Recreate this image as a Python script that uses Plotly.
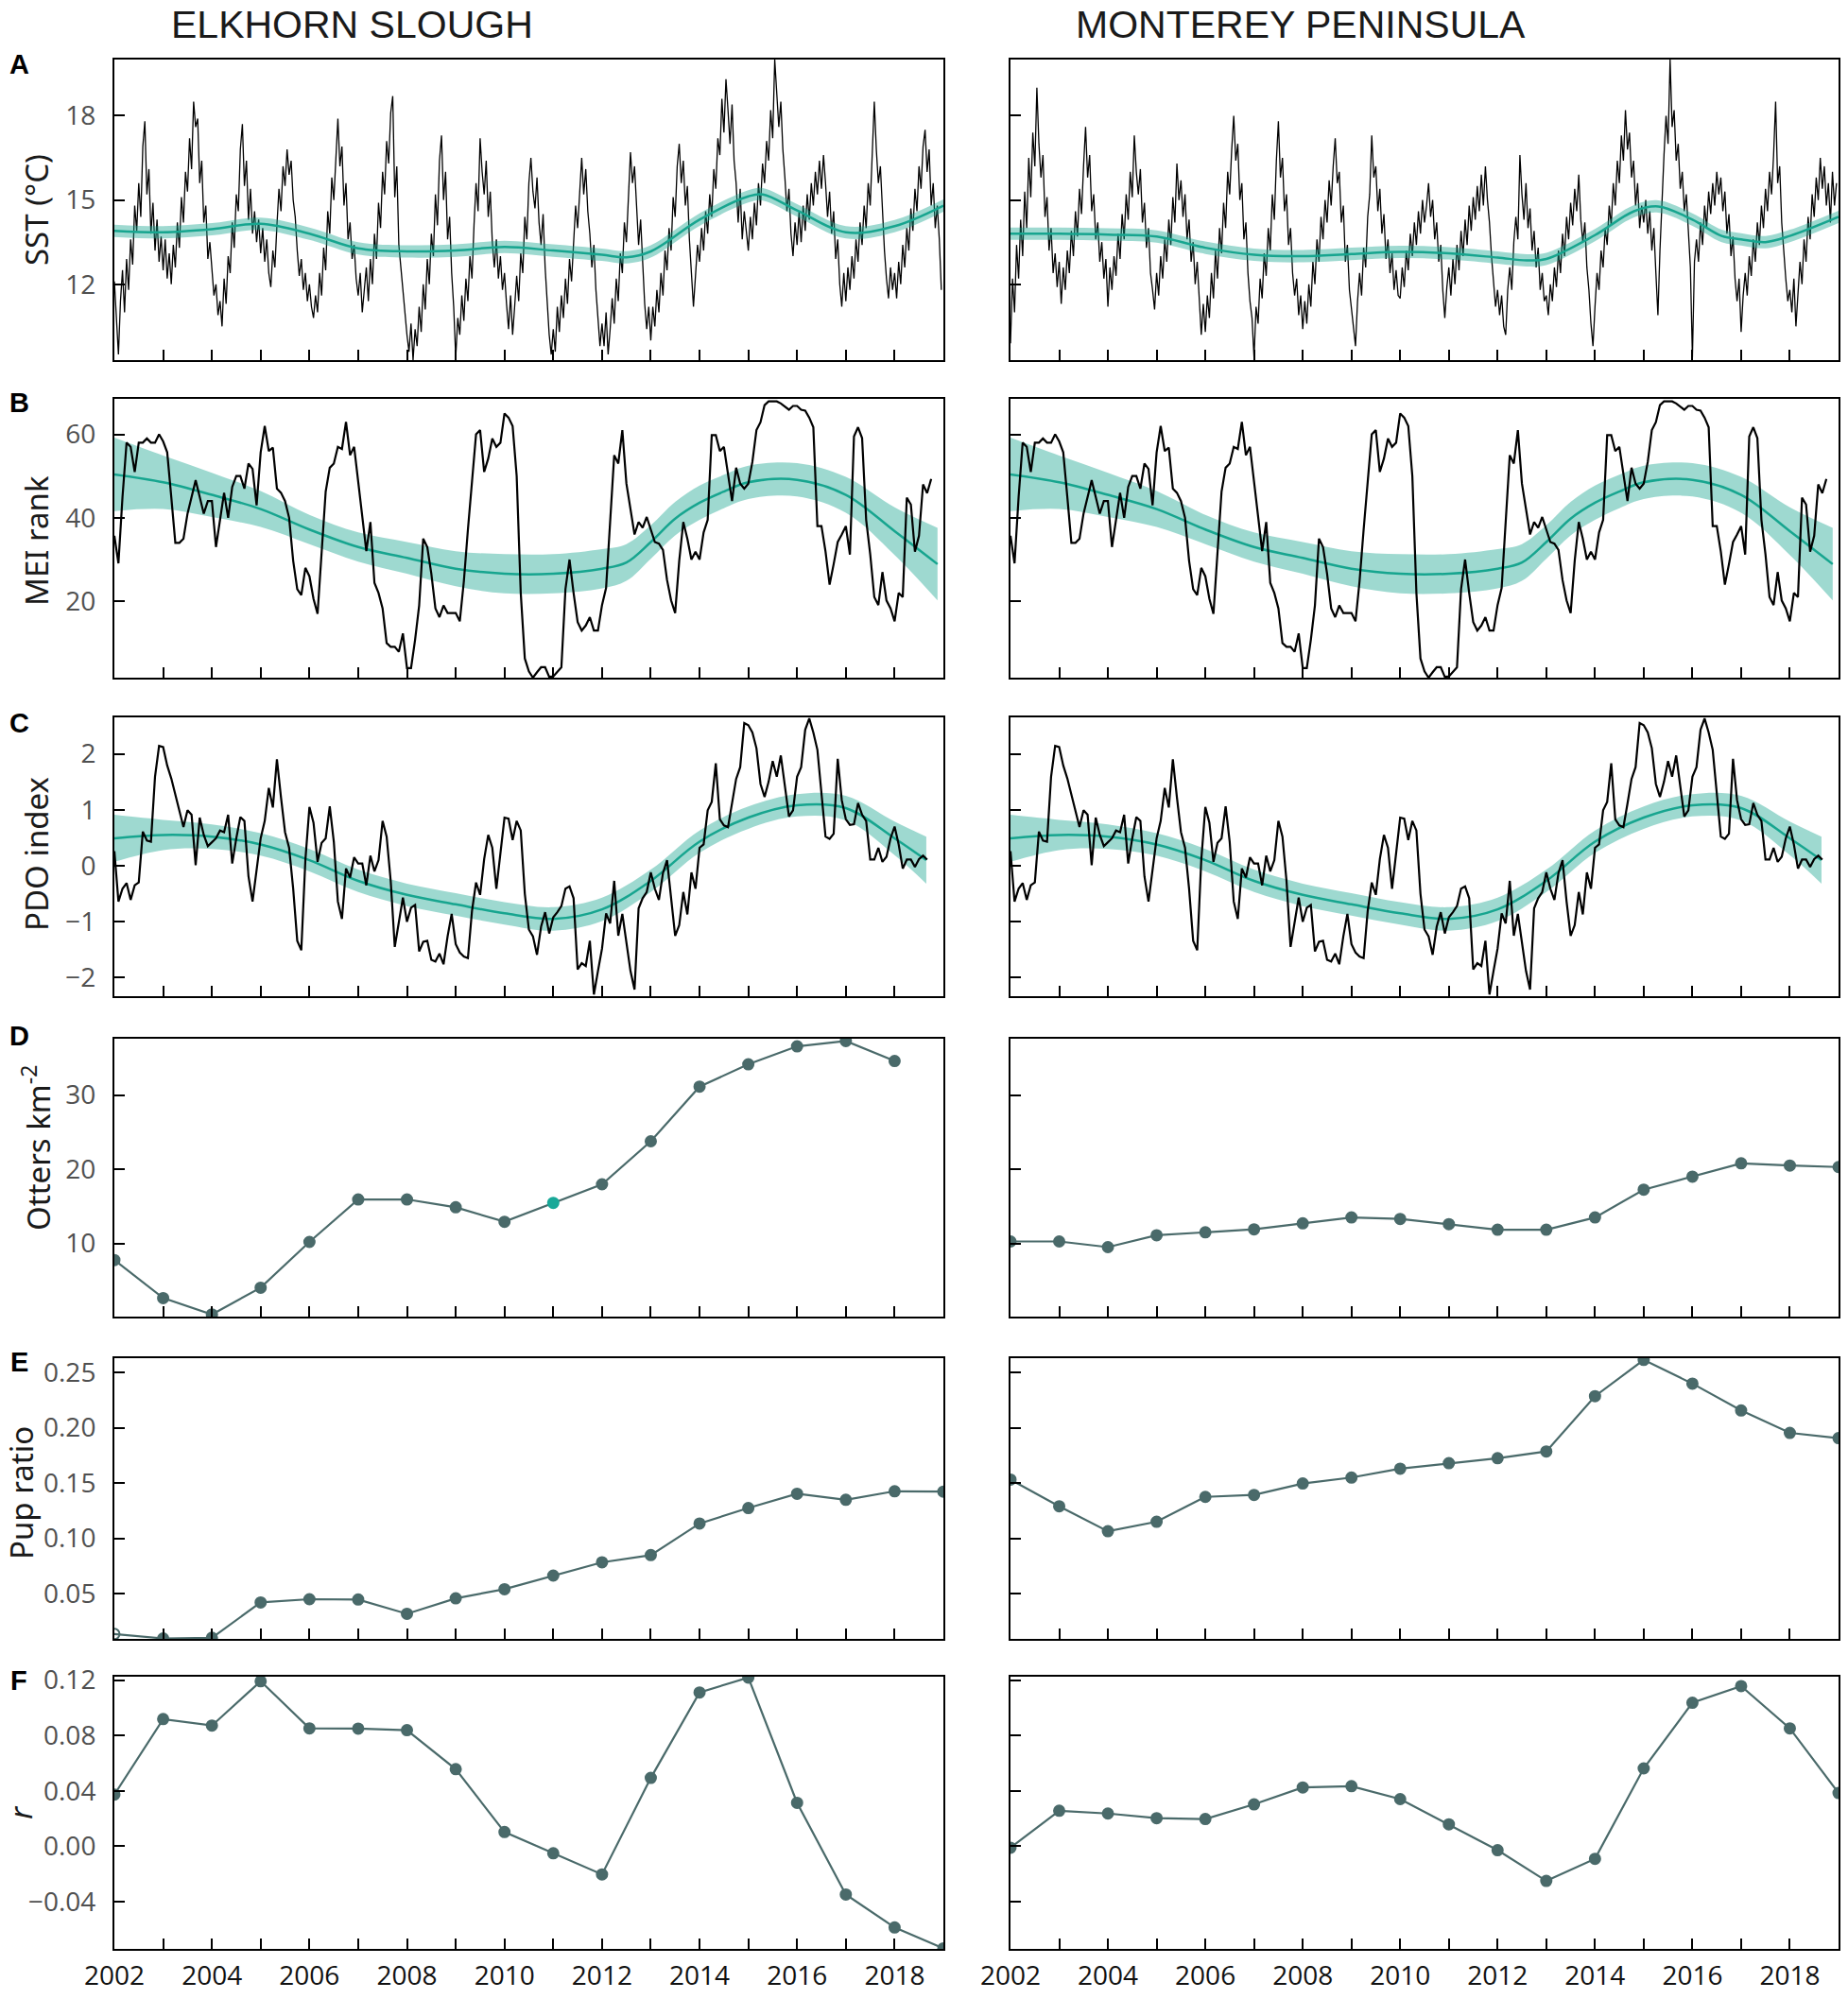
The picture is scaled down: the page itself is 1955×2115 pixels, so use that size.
import plotly.graph_objects as go

# the page body keeps an 8 px margin, so the figure is drawn 16 px smaller
# and every reference pixel position is shifted by that margin
W, H = 1955, 2115
PAD = 8
FW, FH = W - 2 * PAD, H - 2 * PAD


def px_x(px):
    return min(1.0, max(0.0, (px - PAD) / FW))


def px_y(py):
    return min(1.0, max(0.0, 1 - (py - PAD) / FH))


# ---------------- data ----------------
years = list(range(2002, 2020))
label_years = list(range(2002, 2019, 2))
minor_years = [y for y in years if y not in label_years]

# D: otter density (Elkhorn Slough has no 2019 value)
es_otters = [7.75, 2.63, 0.42, 4.03, 10.2, 15.93, 15.93, 14.87, 12.92, 15.47,
             17.97, 23.77, 31.14, 34.15, 36.57, 37.29, 34.6]
mp_otters = [10.26, 10.26, 9.5, 11.1, 11.5, 11.9, 12.7, 13.5, 13.3, 12.6,
             11.85, 11.85, 13.5, 17.25, 19.0, 20.8, 20.5, 20.3]

# E: pup ratio
es_pups = [0.0134, 0.0094, 0.0100, 0.042, 0.0449, 0.0446, 0.0317, 0.0457, 0.054,
           0.0663, 0.0783, 0.0848, 0.1134, 0.1274, 0.1403, 0.1349, 0.1426, 0.1423]
mp_pups = [0.1532, 0.129, 0.1064, 0.115, 0.1375, 0.1393, 0.1496, 0.155, 0.163,
           0.168, 0.1725, 0.1786, 0.2286, 0.2614, 0.24, 0.2157, 0.1954, 0.1907]

# F: growth rate r
es_r = [0.0373, 0.0918, 0.0871, 0.1191, 0.0851, 0.0849, 0.0838, 0.0556, 0.0102,
        -0.0051, -0.0204, 0.0493, 0.111, 0.1218, 0.0313, -0.0349, -0.0587, -0.0738]
mp_r = [-0.0011, 0.0256, 0.0236, 0.0202, 0.0196, 0.0302, 0.0424, 0.0433, 0.034,
        0.0158, -0.0029, -0.0251, -0.0091, 0.0562, 0.1036, 0.1156, 0.0851, 0.0384]

# B: MEI rank, monthly from Jan 2002
mei_rank = [
    35.7, 29.1, 45, 58, 57, 51, 58, 58, 59, 58, 58, 60, 58.3, 55.7, 45, 34, 34, 35, 41, 45,
    49, 45, 41, 44, 44, 33, 39.5, 46, 40, 47.4, 50, 50, 47, 53, 51.7, 43, 55.7, 62, 56, 56.8,
    47, 46, 44, 40, 29.7, 22.9, 21.5, 28, 26, 20.6, 17, 32.7, 46.3, 52, 53, 57, 56.5, 63, 55, 57,
    48.5, 40, 32, 39, 24.4, 22, 18.3, 10, 9.1, 9.1, 7.9, 12.3, 4, 4, 10.8, 19, 35, 33, 26.6, 18.3,
    16.2, 19, 17.2, 17.2, 17.2, 15.2, 24.8, 37.2, 49.3, 60, 61, 51, 54.2, 59, 57, 58, 65, 64, 62, 50,
    22, 6.3, 3.2, 1.7, 3, 4.2, 4.2, 1.9, 2, 3.1, 4.2, 22.9, 30, 22, 15, 13, 14.2, 16.2, 13, 13,
    19.1, 23.2, 39, 55, 53, 61, 48.2, 42.5, 36, 39, 37.6, 40.2, 37.2, 34.2, 33.8, 32.3, 25.1, 20.2, 17.2, 29.7,
    39, 35, 30, 31.9, 30, 36.5, 39.5, 59.8, 59.8, 56, 57, 50.8, 44, 52, 48.2, 47, 48.2, 53.4, 61, 62.9,
    67, 67.9, 67.9, 67.9, 67.4, 66.6, 65.9, 66.8, 66.8, 65.9, 65.7, 64, 61.7, 38, 38, 31.9, 24, 28.9, 34.2, 36,
    38, 31.2, 59.5, 61.7, 59.1, 39.5, 31.2, 21, 19.1, 27, 20.2, 18.3, 15.2, 22, 21, 44.8, 43.2, 31.9, 35.7, 48,
    45.9, 49.3,
]
mei_trend_t = [2002, 2003, 2004, 2005, 2006, 2007, 2008, 2009, 2010, 2011, 2012,
               2012.5, 2013, 2013.5, 2014, 2014.5, 2015, 2016, 2017, 2018, 2018.88]
mei_trend = [50.4, 48.5, 45.5, 42.1, 37.2, 33.0, 30.4, 27.8, 26.6, 26.6, 27.8,
             29.3, 34.2, 39.8, 43.6, 46.3, 48.5, 49.1, 45.5, 36.8, 28.9]
mei_ci = [8.8, 6.4, 5.3, 4.3, 3.5, 3.5, 3.8, 4.2, 4.7, 4.7, 4.7,
          4.4, 4.0, 4.0, 4.1, 4.0, 4.0, 4.0, 4.3, 5.7, 8.7]

# C: PDO index, monthly from Jan 2002
pdo_index = [
    0.26, -0.64, -0.41, -0.31, -0.61, -0.35, -0.3, 0.61, 0.45, 0.43,
    1.59, 2.14, 2.12, 1.79, 1.56, 1.28, 1.0, 0.69, 0.99, 0.91,
    0.01, 0.86, 0.55, 0.35, 0.42, 0.49, 0.63, 0.6, 0.91, 0.04,
    0.49, 0.87, 0.8, -0.19, -0.64, -0.07, 0.49, 0.8, 1.39, 1.04,
    1.9, 1.22, 0.6, 0.32, -0.41, -1.34, -1.51, 0.1, 1.05, 0.77,
    0.07, 0.41, 0.49, 1.06, 0.43, -0.64, -0.95, -0.05, -0.21, 0.15,
    0.04, 0.04, -0.35, 0.18, -0.1, 0.1, 0.8, 0.52, -0.27, -1.45,
    -1.03, -0.57, -1.0, -0.75, -0.7, -1.53, -1.36, -1.34, -1.68, -1.71,
    -1.57, -1.76, -1.26, -0.86, -1.4, -1.55, -1.62, -1.65, -0.81, -0.3,
    -0.52, 0.12, 0.55, 0.32, -0.41, 0.26, 0.86, 0.84, 0.46, 0.8,
    0.63, -0.5, -1.14,
    -1.26, -1.59, -1.09, -0.83, -1.21, -0.92, -0.83, -0.72, -0.41, -0.37,
    -0.58, -1.85, -1.74, -1.79, -1.34, -2.3, -1.88, -1.48, -0.85, -1.03,
    -0.27, -1.25, -0.86, -1.37, -1.88, -2.21, -0.76, -0.58, -0.47, -0.12,
    -0.41, -0.61, -0.13, 0.1, -0.64, -1.25, -1.06, -0.47, -0.87, -0.12,
    -0.41, 0.32, 0.38, 0.99, 1.14, 1.83, 0.83, 0.72, 0.69, 1.11,
    1.55, 1.76, 2.55, 2.51, 2.38, 2.1, 1.46, 1.23, 1.5, 1.87,
    1.59, 1.97, 1.39, 0.88, 0.99, 1.59, 1.76, 2.43, 2.63, 2.38,
    2.07, 1.25, 0.52, 0.48, 0.57, 1.91, 1.17, 0.83, 0.73, 0.74,
    1.12, 0.91, 0.8, 0.11, 0.11, 0.32, 0.07, 0.16, 0.49, 0.7,
    0.38, -0.05, 0.11, 0.11, -0.02, 0.12, 0.18, 0.11,
]
pdo_trend_t = [2002, 2003, 2004, 2005, 2006, 2007, 2008, 2009, 2010, 2011, 2012,
               2013, 2014, 2015, 2016, 2017, 2018, 2018.65]
pdo_trend = [0.49, 0.55, 0.52, 0.38, 0.10, -0.27, -0.52, -0.69, -0.85, -0.95, -0.78,
             -0.27, 0.43, 0.86, 1.08, 1.03, 0.49, 0.10]
pdo_ci = [0.42, 0.27, 0.22, 0.20, 0.20, 0.20, 0.20, 0.20, 0.20, 0.21, 0.21,
          0.20, 0.20, 0.20, 0.20, 0.22, 0.30, 0.42]

# A: SST, twice a month from Jan 2002 (one row per year)
sst_es = [
    12.1, 10.6, 9.5, 11.4, 12.5, 11.0, 12.9, 11.8, 13.6, 12.7, 14.8, 13.9, 15.6, 14.4, 16.9, 17.8, 15.2, 16.1, 13.8, 14.9, 13.2, 14.3, 12.8, 13.7,
    12.5, 13.6, 12.2, 13.1, 12.0, 13.4, 12.6, 14.2, 13.3, 15.1, 14.2, 16.0, 15.3, 17.2, 16.1, 18.5, 17.6, 17.9, 15.6, 16.4, 14.2, 14.8, 12.9, 13.5,
    12.4, 11.6, 12.0, 10.9, 11.4, 10.5, 12.2, 11.3, 13.0, 12.4, 14.2, 13.3, 15.2, 14.6, 16.8, 17.7, 15.5, 16.4, 14.3, 15.4, 13.8, 14.6, 13.5, 14.3,
    13.1, 14.0, 12.8, 13.6, 12.4, 11.9, 13.2, 12.6, 14.1, 15.4, 14.6, 16.2, 15.5, 16.8, 15.9, 16.4, 15.0, 14.4, 13.2, 12.3, 12.9, 11.8, 12.4, 11.4,
    12.0, 11.2, 10.8, 11.6, 11.0, 12.4, 11.6, 13.3, 12.5, 14.6, 13.8, 15.8, 15.0, 16.7, 17.9, 16.2, 16.9, 14.8, 15.6, 13.6, 14.2, 12.9, 13.4, 12.2,
    11.6, 12.4, 11.0, 11.8, 12.6, 11.4, 12.9, 12.0, 13.8, 12.9, 14.9, 14.0, 16.0, 15.2, 17.1, 16.3, 18.1, 18.7, 15.1, 16.2, 13.4, 12.6, 11.8, 10.9,
    10.2, 9.6, 10.6, 9.3, 10.4, 9.8, 11.2, 10.3, 12.0, 11.1, 12.9, 12.0, 13.8, 13.0, 15.2, 14.1, 16.4, 17.3, 15.0, 16.0, 13.6, 14.4, 12.4, 11.2,
    9.4, 10.8, 10.2, 11.6, 10.7, 12.2, 11.4, 13.0, 12.2, 14.1, 15.6, 14.6, 17.2, 16.0, 15.2, 16.4, 14.4, 15.3, 13.5, 12.6, 13.6, 12.2, 13.0, 11.8,
    12.4, 11.3, 10.4, 11.6, 10.2, 11.2, 12.3, 11.4, 13.1, 12.4, 14.4, 13.6, 15.6, 16.5, 15.3, 14.7, 15.8, 14.2, 13.4, 14.5, 12.6, 11.4, 10.2, 9.5,
    10.4, 9.6, 11.2, 10.3, 11.6, 10.8, 12.2, 11.3, 12.9, 12.1, 13.6, 14.8, 14.0, 15.5, 16.5, 15.2, 16.1, 14.6, 13.8, 12.6, 13.4, 11.8, 10.6, 9.8,
    10.6, 9.8, 11.0, 9.5, 10.4, 11.5, 10.6, 12.2, 11.4, 13.1, 12.4, 14.2, 13.5, 15.3, 16.7, 15.6, 16.2, 14.8, 13.4, 14.3, 12.5, 11.3, 10.4, 11.2,
    10.0, 11.2, 10.5, 11.8, 11.0, 12.4, 11.6, 13.2, 12.5, 14.0, 13.2, 15.1, 14.4, 16.2, 17.0, 15.6, 16.4, 14.8, 15.5, 13.6, 12.4, 11.2, 12.3, 13.4,
    12.8, 14.0, 13.2, 14.6, 13.8, 15.2, 14.4, 16.1, 15.4, 17.2, 16.6, 18.6, 17.4, 19.3, 18.2, 17.0, 18.4, 16.4, 15.6, 14.2, 15.4, 13.6, 14.6, 13.8,
    13.2, 14.4, 13.6, 14.9, 14.1, 15.6, 14.8, 16.3, 15.6, 17.1, 16.4, 18.2, 17.2, 20.0, 18.8, 17.6, 18.5, 16.8, 15.8, 14.6, 15.4, 13.8, 13.0, 14.2,
    13.4, 14.6, 13.5, 14.8, 13.9, 15.2, 14.3, 15.6, 14.8, 16.0, 15.2, 16.4, 15.4, 16.6, 15.6, 14.4, 15.3, 13.8, 14.6, 12.9, 13.6, 12.0, 11.2, 12.4,
    11.4, 12.6, 11.8, 13.0, 12.2, 13.6, 12.8, 14.2, 13.4, 14.8, 14.0, 15.6, 14.8, 16.4, 18.5, 16.8, 15.6, 16.2, 14.4, 13.2, 12.2, 11.5, 12.6, 11.8,
    12.4, 11.5, 12.8, 12.0, 13.4, 12.6, 14.0, 13.2, 14.7, 13.9, 15.4, 14.6, 16.2, 15.4, 16.9, 17.5, 16.0, 16.8, 14.8, 15.6, 14.0, 14.8, 13.6, 11.8,
]
sst_mp = [
    9.9, 12.2, 11.0, 13.4, 12.2, 14.3, 13.0, 15.3, 14.0, 16.5, 15.1, 17.4, 16.2, 19.0, 17.0, 15.8, 16.6, 14.4, 15.1, 13.2, 14.0, 12.4, 13.1, 11.9,
    12.8, 11.3, 12.6, 11.8, 13.2, 12.4, 13.9, 13.0, 14.6, 13.7, 15.4, 14.5, 16.2, 17.6, 15.8, 16.6, 14.6, 15.2, 13.6, 14.2, 12.8, 13.5, 12.2, 12.9,
    11.2, 12.6, 11.8, 13.0, 12.3, 13.8, 12.9, 14.5, 13.6, 15.2, 14.3, 16.0, 15.1, 17.3, 16.0, 15.2, 16.1, 14.2, 14.9, 13.3, 14.0, 12.4, 11.8, 11.1,
    12.4, 11.6, 13.0, 12.2, 13.6, 12.8, 14.3, 13.4, 15.1, 14.2, 16.3, 15.0, 15.7, 14.4, 15.2, 13.6, 14.3, 12.8, 13.5, 12.0, 12.8, 11.4, 10.2, 11.3,
    10.3, 11.6, 10.8, 12.4, 11.5, 13.2, 12.2, 14.0, 13.1, 14.9, 14.0, 16.0, 15.2, 16.8, 18.0, 16.4, 17.0, 15.0, 15.6, 13.6, 14.2, 12.4, 11.4, 10.8,
    9.4, 11.2, 10.6, 12.2, 11.5, 13.1, 12.3, 14.0, 13.2, 15.2, 14.3, 16.4, 17.8, 15.8, 16.5, 14.6, 15.2, 13.4, 14.0, 12.4, 11.6, 12.2, 10.9, 11.6,
    10.4, 11.4, 10.6, 12.0, 11.2, 12.8, 12.0, 13.6, 12.8, 14.4, 13.6, 15.0, 14.2, 15.7, 14.8, 16.2, 17.2, 15.6, 16.0, 14.2, 14.8, 12.8, 13.4, 11.8,
    11.2, 10.4, 9.8, 11.4, 12.4, 11.6, 13.3, 12.6, 14.4, 15.2, 17.3, 15.8, 16.2, 14.6, 15.4, 13.8, 14.5, 12.9, 13.6, 12.4, 13.1, 11.8, 12.5, 11.6,
    11.5, 12.6, 11.9, 13.2, 12.5, 13.8, 13.0, 14.2, 13.4, 14.6, 13.8, 15.0, 14.2, 14.8, 15.6, 14.4, 15.0, 13.6, 14.2, 12.8, 13.4, 11.8, 10.8, 11.9,
    12.6, 11.6, 12.9, 12.0, 13.4, 12.5, 13.9, 13.0, 14.3, 13.4, 14.8, 13.9, 15.1, 14.3, 15.5, 14.6, 15.9, 14.8, 16.2, 15.0, 14.2, 13.0, 12.2, 11.2,
    11.8, 10.9, 11.6, 10.5, 10.2, 11.8, 12.6, 11.8, 13.5, 14.4, 13.6, 16.6, 15.2, 14.3, 15.6, 14.0, 14.7, 13.2, 13.9, 12.6, 13.3, 11.8, 12.4, 11.4,
    11.6, 10.9, 12.0, 11.4, 12.6, 11.9, 13.2, 12.4, 13.8, 13.0, 14.4, 13.6, 14.9, 14.1, 15.4, 14.6, 15.9, 14.3, 13.5, 14.2, 12.6, 11.8, 10.6, 9.8,
    11.2, 12.4, 11.8, 13.2, 12.6, 14.0, 13.4, 14.8, 14.1, 15.6, 14.8, 16.4, 15.6, 17.3, 16.4, 18.2, 16.8, 17.4, 15.8, 16.4, 14.8, 15.6, 14.0, 14.8,
    14.2, 15.0, 13.8, 14.6, 13.2, 14.0, 12.4, 10.9, 13.2, 15.2, 16.6, 18.0, 17.0, 20.0, 17.6, 18.2, 16.4, 17.0, 15.4, 16.0, 14.6, 15.2, 13.8, 12.6,
    9.4, 12.8, 13.6, 12.8, 14.2, 13.4, 14.8, 14.0, 15.3, 14.5, 15.6, 14.8, 16.0, 15.2, 15.8, 14.6, 15.3, 13.8, 14.5, 13.0, 13.7, 12.2, 11.4, 12.2,
    10.3, 11.6, 12.4, 11.6, 13.0, 12.3, 13.6, 12.8, 14.2, 13.4, 14.8, 14.0, 15.4, 14.6, 16.0, 15.2, 16.6, 18.5, 15.6, 16.2, 14.2, 13.0, 12.2, 11.4,
    11.8, 11.0, 12.2, 10.5, 11.8, 12.8, 12.0, 13.6, 12.8, 14.4, 13.6, 15.2, 14.4, 15.8, 15.0, 16.5, 15.4, 16.2, 14.8, 15.6, 14.2, 16.0, 14.8, 15.6,
]
sst_es_trend_t = [2002, 2003, 2004, 2005, 2006, 2007, 2008, 2009, 2010, 2011, 2012,
                  2012.5, 2013, 2014, 2015, 2015.3, 2016, 2017, 2018, 2019]
sst_es_trend = [13.9, 13.85, 13.96, 14.15, 13.8, 13.28, 13.17, 13.2, 13.33, 13.2, 13.05,
                12.96, 13.17, 14.3, 15.13, 15.2, 14.63, 13.85, 14.07, 14.8]
sst_mp_trend_t = [2002, 2003, 2004, 2005, 2006, 2007, 2008, 2009, 2010, 2011, 2012,
                  2012.6, 2013, 2014, 2014.8, 2015.3, 2016, 2016.6, 2017, 2017.5, 2018, 2019]
sst_mp_trend = [13.8, 13.8, 13.77, 13.7, 13.3, 13.05, 13.0, 13.08, 13.15, 13.1, 12.95,
                12.85, 12.9, 13.75, 14.6, 14.77, 14.3, 13.72, 13.6, 13.5, 13.72, 14.4]
sst_ci = 0.22

# ---------------- styling ----------------
TEAL = "#17a58f"
BAND = "rgba(23,165,143,0.42)"
SLATE = "#4a6a6a"
SANS = "Open Sans, Noto Sans, sans-serif"
TICKFONT = dict(family=SANS, size=28, color="#505050")
XTICKFONT = dict(family=SANS, size=28, color="#111111")

# panel edges in reference pixels
col_px = [(121, 998), (1069, 1945)]
row_px = [(63, 381), (422, 717), (759, 1054), (1099, 1393), (1437, 1734), (1774, 2062)]

y_specs = [
    dict(range=[9.3, 20.0], tickvals=[12, 15, 18], ticktext=["12", "15", "18"]),
    dict(range=[1.7, 68.5], tickvals=[20, 40, 60], ticktext=["20", "40", "60"]),
    dict(range=[-2.33, 2.65], tickvals=[-2, -1, 0, 1, 2], ticktext=["\u22122", "\u22121", "0", "1", "2"]),
    dict(range=[0.13, 37.6], tickvals=[10, 20, 30], ticktext=["10", "20", "30"]),
    dict(range=[0.009, 0.263], tickvals=[0.05, 0.10, 0.15, 0.20, 0.25],
         ticktext=["0.05", "0.10", "0.15", "0.20", "0.25"]),
    dict(range=[-0.0742, 0.1224], tickvals=[-0.04, 0.0, 0.04, 0.08, 0.12],
         ticktext=["\u22120.04", "0.00", "0.04", "0.08", "0.12"]),
]

fig = go.Figure()
layout = {}


def names(row, col):
    k = row * 2 + col + 1
    s = "" if k == 1 else str(k)
    return "x" + s, "y" + s, "xaxis" + s, "yaxis" + s


for row in range(6):
    for col in range(2):
        xn, yn, xa, ya = names(row, col)
        x0, x1 = col_px[col]
        y0, y1 = row_px[row]
        common = dict(ticks="inside", ticklen=11, tickwidth=2, tickcolor="black",
                      showline=True, linewidth=2, linecolor="black", mirror=True,
                      showgrid=False, zeroline=False, automargin=False)
        layout[xa] = dict(domain=[px_x(x0), px_x(x1)], range=[2002, 2019], anchor=yn,
                          tickmode="array", tickvals=label_years,
                          ticktext=[str(y) for y in label_years],
                          minor=dict(tickmode="array", tickvals=minor_years, ticks="inside",
                                     ticklen=11, tickwidth=2, tickcolor="black", showgrid=False),
                          showticklabels=(row == 5), tickfont=XTICKFONT, ticklabelstandoff=2,
                          **common)
        spec = y_specs[row]
        layout[ya] = dict(domain=[px_y(y1), px_y(y0)], range=spec["range"], anchor=xn,
                          tickmode="array", tickvals=spec["tickvals"], ticktext=spec["ticktext"],
                          showticklabels=(col == 0), tickfont=TICKFONT, ticklabelstandoff=12,
                          **common)


def add_band(t, mid, ci, xn, yn):
    if isinstance(ci, (int, float)):
        ci = [ci] * len(mid)
    upper = [m + c for m, c in zip(mid, ci)]
    lower = [m - c for m, c in zip(mid, ci)]
    fig.add_trace(go.Scatter(x=t, y=upper, mode="lines", line=dict(width=0, shape="spline"),
                             xaxis=xn, yaxis=yn, hoverinfo="skip"))
    fig.add_trace(go.Scatter(x=t, y=lower, mode="lines", line=dict(width=0, shape="spline"),
                             fill="tonexty", fillcolor=BAND, xaxis=xn, yaxis=yn, hoverinfo="skip"))
    fig.add_trace(go.Scatter(x=t, y=mid, mode="lines", line=dict(color=TEAL, width=2.5, shape="spline"),
                             xaxis=xn, yaxis=yn))


# A: SST
for col, (sst, tt, tr) in enumerate([(sst_es, sst_es_trend_t, sst_es_trend),
                                     (sst_mp, sst_mp_trend_t, sst_mp_trend)]):
    xn, yn, _, _ = names(0, col)
    t_sst = [2002 + i / 24 for i in range(len(sst))]
    fig.add_trace(go.Scatter(x=t_sst, y=sst, mode="lines", line=dict(color="black", width=1.3),
                             xaxis=xn, yaxis=yn))
    add_band(tt, tr, sst_ci, xn, yn)

# B: MEI rank and C: PDO (same climate indices for both sites)
t_mei = [2002 + i / 12 for i in range(len(mei_rank))]
t_pdo = [2002 + i / 12 for i in range(len(pdo_index))]
for col in range(2):
    xn, yn, _, _ = names(1, col)
    add_band(mei_trend_t, mei_trend, mei_ci, xn, yn)
    fig.add_trace(go.Scatter(x=t_mei, y=mei_rank, mode="lines", line=dict(color="black", width=2.2),
                             xaxis=xn, yaxis=yn))
    xn, yn, _, _ = names(2, col)
    add_band(pdo_trend_t, pdo_trend, pdo_ci, xn, yn)
    fig.add_trace(go.Scatter(x=t_pdo, y=pdo_index, mode="lines", line=dict(color="black", width=2.2),
                             xaxis=xn, yaxis=yn))

# D, E, F: otter series
series = [
    (3, es_otters, mp_otters),
    (4, es_pups, mp_pups),
    (5, es_r, mp_r),
]
for row, left, right in series:
    for col, vals in enumerate([left, right]):
        xn, yn, _, _ = names(row, col)
        colors = [SLATE] * len(vals)
        symbols = ["circle"] * len(vals)
        if row == 3 and col == 0:
            colors[years.index(2011)] = "#19a898"
        if row == 4 and col == 0:
            symbols[0] = "circle-open"
        fig.add_trace(go.Scatter(x=years[:len(vals)], y=vals, mode="lines+markers",
                                 line=dict(color=SLATE, width=2.2),
                                 marker=dict(color=colors, size=11, symbol=symbols,
                                             line=dict(width=2, color=colors)),
                                 xaxis=xn, yaxis=yn))

# ---------------- text ----------------
ann = []
TITLEFONT = dict(family="Liberation Sans, Arial, sans-serif", size=41, color="#1a1a1a")
for txt, xx in [("ELKHORN SLOUGH", 179), ("MONTEREY PENINSULA", 1136)]:
    ann.append(dict(text=txt, xref="paper", yref="paper", x=px_x(xx), y=px_y(26),
                    xanchor="left", yanchor="middle", showarrow=False, font=TITLEFONT))

letters = ["A", "B", "C", "D", "E", "F"]
letter_y = [68, 426, 765, 1096, 1441, 1778]
for L, yy in zip(letters, letter_y):
    ann.append(dict(text="<b>%s</b>" % L, xref="paper", yref="paper", x=px_x(20), y=px_y(yy),
                    xanchor="center", yanchor="middle", showarrow=False,
                    font=dict(family="Liberation Sans, Arial, sans-serif", size=29, color="black")))

ytitles = ["SST (\u00b0C)", "MEI rank", "PDO index", "Otters km<sup>-2</sup>", "Pup ratio", "<i>r</i>"]
ytitle_x = [38, 38, 38, 38, 22, 21]
ytitle_y = [222, 572, 904, 1215, 1580, 1918]
for txt, xx, yy in zip(ytitles, ytitle_x, ytitle_y):
    ann.append(dict(text=txt, xref="paper", yref="paper", x=px_x(xx), y=px_y(yy),
                    xanchor="center", yanchor="middle", textangle=-90, showarrow=False,
                    font=dict(family="Noto Sans, DejaVu Sans, sans-serif", size=33, color="#1a1a1a")))

fig.update_layout(template="none", width=FW, height=FH,
                  margin=dict(l=0, r=0, t=0, b=0, autoexpand=False),
                  paper_bgcolor="white", plot_bgcolor="white", showlegend=False,
                  annotations=ann, **layout)

fig.write_html("out.html")
